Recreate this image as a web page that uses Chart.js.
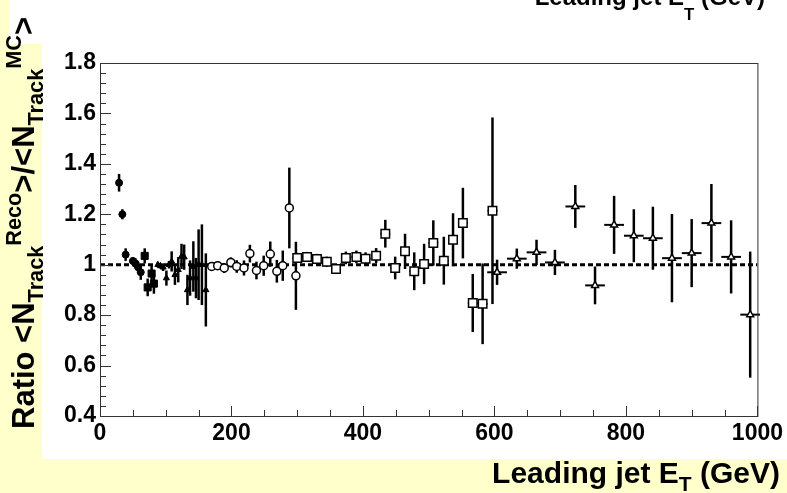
<!DOCTYPE html>
<html>
<head>
<meta charset="utf-8">
<script src="https://cdn.jsdelivr.net/npm/chart.js@4.4.0/dist/chart.umd.min.js"></script>
<style>
body{margin:0;background:#fff;}
#wrap{position:relative;width:787px;height:493px;overflow:hidden;background:#fff;font-family:"Liberation Sans",Arial,sans-serif;font-weight:bold;}
.band{position:absolute;background:#ffffcc;}
canvas{position:absolute;left:0;top:0;}
.lbl{position:absolute;white-space:nowrap;color:#000;}
.lbl sub{font-size:0.7em;vertical-align:-0.4em;line-height:0;}
.lbl sup{font-size:0.7em;vertical-align:0.6em;line-height:0;}
#ytitle{left:6px;top:429px;font-size:31px;line-height:36px;transform-origin:0 0;transform:rotate(-90deg);}
#xtitle{right:7px;top:458px;font-size:30px;line-height:30px;}
#toptitle{right:22px;top:-15px;font-size:24px;line-height:24px;}
#toptitle sub{vertical-align:-0.9em;}
</style>
</head>
<body>
<div id="wrap">
  <div class="band" style="left:0;top:0;width:9px;height:44px"></div>
  <div class="band" style="left:0;top:44px;width:42px;height:449px"></div>
  <div class="band" style="left:0;top:459px;width:787px;height:34px"></div>
  <canvas id="c" width="787" height="493"></canvas>
  <div class="lbl" id="toptitle">Leading jet E<sub>T</sub> (GeV)</div>
  <div class="lbl" id="ytitle">Ratio &lt;N<sub>Track</sub><sup>Reco</sup>&gt;/&lt;N<sub>Track</sub><sup>MC</sup>&gt;</div>
  <div class="lbl" id="xtitle">Leading jet E<sub>T</sub> (GeV)</div>
</div>
<script>
// filled circles
const fcX = [29, 34, 39, 50, 54, 58, 62];
const fcY = [1.325, 1.20, 1.04, 1.015, 1.005, 0.99, 0.97];
const fcErr = [0.035, 0.02, 0.025, 0.015, 0.02, 0.02, 0.03];

// filled squares
const fsX = [68, 72.5, 78.5, 82];
const fsY = [1.035, 0.91, 0.965, 0.925];
const fsErr = [0.03, 0.035, 0.03, 0.04];

// filled triangles
const ftX = [88, 92, 96, 101, 105, 109, 114, 119, 124, 128, 133, 137, 142, 146, 150, 155, 161];
const ftY = [1.00, 0.995, 0.99, 0.947, 1.00, 1.013, 0.96, 0.98, 1.033, 1.03, 0.90, 0.947, 0.993, 0.947, 1.00, 1.00, 0.90];
const ftErr = [0.01, 0.01, 0.015, 0.03, 0.015, 0.04, 0.04, 0.05, 0.05, 0.05, 0.06, 0.07, 0.1, 0.08, 0.14, 0.16, 0.145];

// open circles
const ocX = [170, 179, 189, 199, 208, 219, 228, 238, 249, 259, 269, 278, 288, 298];
const ocY = [0.993, 0.996, 0.987, 1.009, 0.993, 0.987, 1.044, 0.977, 0.996, 1.042, 0.974, 0.996, 1.225, 0.956];
const ocErr = [0.015, 0.015, 0.02, 0.02, 0.025, 0.03, 0.035, 0.035, 0.04, 0.05, 0.045, 0.06, 0.16, 0.135];

// open squares
const osX = [300, 315, 330, 345, 359, 374, 390, 404, 420, 434, 449, 464, 478, 493, 507, 523, 537, 552, 567, 582, 597];
const osY = [1.027, 1.031, 1.023, 1.012, 0.983, 1.027, 1.031, 1.024, 1.036, 1.123, 0.987, 1.053, 0.974, 1.003, 1.086, 1.016, 1.099, 1.165, 0.848, 0.845, 1.214];
const osErr = [0.02, 0.02, 0.02, 0.02, 0.02, 0.025, 0.025, 0.025, 0.03, 0.055, 0.045, 0.07, 0.075, 0.08, 0.09, 0.095, 0.105, 0.14, 0.115, 0.16, 0.37];

// open triangles
const otX = [604, 634, 664, 692, 723, 753, 782, 812, 841, 870, 900, 930, 960, 989];
const otY = [0.970, 1.024, 1.049, 1.009, 1.231, 0.918, 1.158, 1.115, 1.105, 1.026, 1.046, 1.165, 1.031, 0.802];
const otErr = [0.05, 0.04, 0.05, 0.05, 0.085, 0.075, 0.115, 0.105, 0.125, 0.175, 0.135, 0.155, 0.145, 0.25];

const xTicks = [0, 200, 400, 600, 800, 1000];
const yTicks = [0.4, 0.6, 0.8, 1, 1.2, 1.4, 1.6, 1.8];

const FONT = "'Liberation Sans', Arial, sans-serif";

function pts(xs, ys){
  return xs.map((x, i) => ({x, y: ys[i]}));
}

function series(xs, ys, errs, halfWidth, style, radius, open){
  return {
    type: "scatter",
    data: pts(xs, ys),
    errY: errs,
    errX: halfWidth,
    pointStyle: style,
    pointRadius: radius,
    pointBackgroundColor: open ? "#fff" : "#000",
    pointBorderColor: "#000",
    pointBorderWidth: open ? 1.5 : 1
  };
}

const errorBars = {
  id: "errorBars",
  beforeDatasetsDraw(chart){
    const {ctx, scales: {x, y}} = chart;
    ctx.save();
    ctx.strokeStyle = "#000";
    chart.data.datasets.forEach(ds => {
      if(!ds.errY) return;
      ds.data.forEach((p, i) => {
        const px = x.getPixelForValue(p.x);
        const py = y.getPixelForValue(p.y);
        ctx.lineWidth = 2.5;
        ctx.beginPath();
        ctx.moveTo(px, y.getPixelForValue(p.y - ds.errY[i]));
        ctx.lineTo(px, y.getPixelForValue(p.y + ds.errY[i]));
        ctx.stroke();
        ctx.lineWidth = 2;
        ctx.beginPath();
        ctx.moveTo(x.getPixelForValue(p.x - ds.errX), py);
        ctx.lineTo(x.getPixelForValue(p.x + ds.errX), py);
        ctx.stroke();
      });
    });
    ctx.restore();
  }
};

// frame and inward ticks, ROOT style
const frame = {
  id: "frame",
  afterDatasetsDraw(chart){
    const {ctx, chartArea: a, scales: {x, y}} = chart;
    ctx.save();
    ctx.strokeStyle = "#333";
    ctx.lineWidth = 1;
    ctx.strokeRect(a.left + 0.5, a.top + 0.5, a.right - a.left, a.bottom - a.top);
    ctx.beginPath();
    for(let i = 0; i <= 20; i++){
      const px = Math.round(x.getPixelForValue(i * 50)) + 0.5;
      const len = i % 4 === 0 ? 10 : 6;
      ctx.moveTo(px, a.bottom);
      ctx.lineTo(px, a.bottom - len);
    }
    for(let i = 0; i <= 35; i++){
      const py = Math.round(y.getPixelForValue(0.4 + i * 0.04)) + 0.5;
      const len = i % 5 === 0 ? 11 : 6;
      ctx.moveTo(a.left, py);
      ctx.lineTo(a.left + len, py);
    }
    ctx.stroke();
    ctx.restore();
  }
};

const datasets = [
  series(fcX, fcY, fcErr, 2.5, "circle", 3.5, false),
  series(fsX, fsY, fsErr, 2.5, "rect", 5, false),
  series(ftX, ftY, ftErr, 2.5, "triangle", 3.5, false),
  series(ocX, ocY, ocErr, 5, "circle", 4, true),
  series(osX, osY, osErr, 7.5, "rect", 6, true),
  series(otX, otY, otErr, 15, "triangle", 4, true),
  {
    type: "line",
    data: [{x: 0, y: 1}, {x: 1000, y: 1}],
    borderColor: "#000",
    borderWidth: 3,
    borderDash: [5, 3],
    pointRadius: 0
  }
];

new Chart(document.getElementById("c"), {
  type: "scatter",
  data: {datasets},
  options: {
    responsive: false,
    animation: false,
    layout: {padding: {left: 0, right: 29, top: 63, bottom: 37}},
    plugins: {legend: {display: false}, tooltip: {enabled: false}},
    scales: {
      x: {
        type: "linear", min: 0, max: 1000,
        grid: {display: false, drawTicks: false},
        border: {display: false},
        afterBuildTicks(s){ s.ticks = xTicks.map(v => ({value: v})); },
        ticks: {color: "#000", padding: 4, maxRotation: 0, font: {family: FONT, size: 23, weight: "bold"},
          callback: v => String(v)},
        afterFit(s){ s.height = 40; }
      },
      y: {
        type: "linear", min: 0.4, max: 1.8,
        grid: {display: false, drawTicks: false},
        border: {display: false},
        afterBuildTicks(s){ s.ticks = yTicks.map(v => ({value: v})); },
        ticks: {color: "#000", padding: 4, font: {family: FONT, size: 23, weight: "bold"},
          callback: v => String(Math.round(v * 10) / 10)},
        afterFit(s){ s.width = 100; }
      }
    }
  },
  plugins: [errorBars, frame]
});
</script>
</body>
</html>
